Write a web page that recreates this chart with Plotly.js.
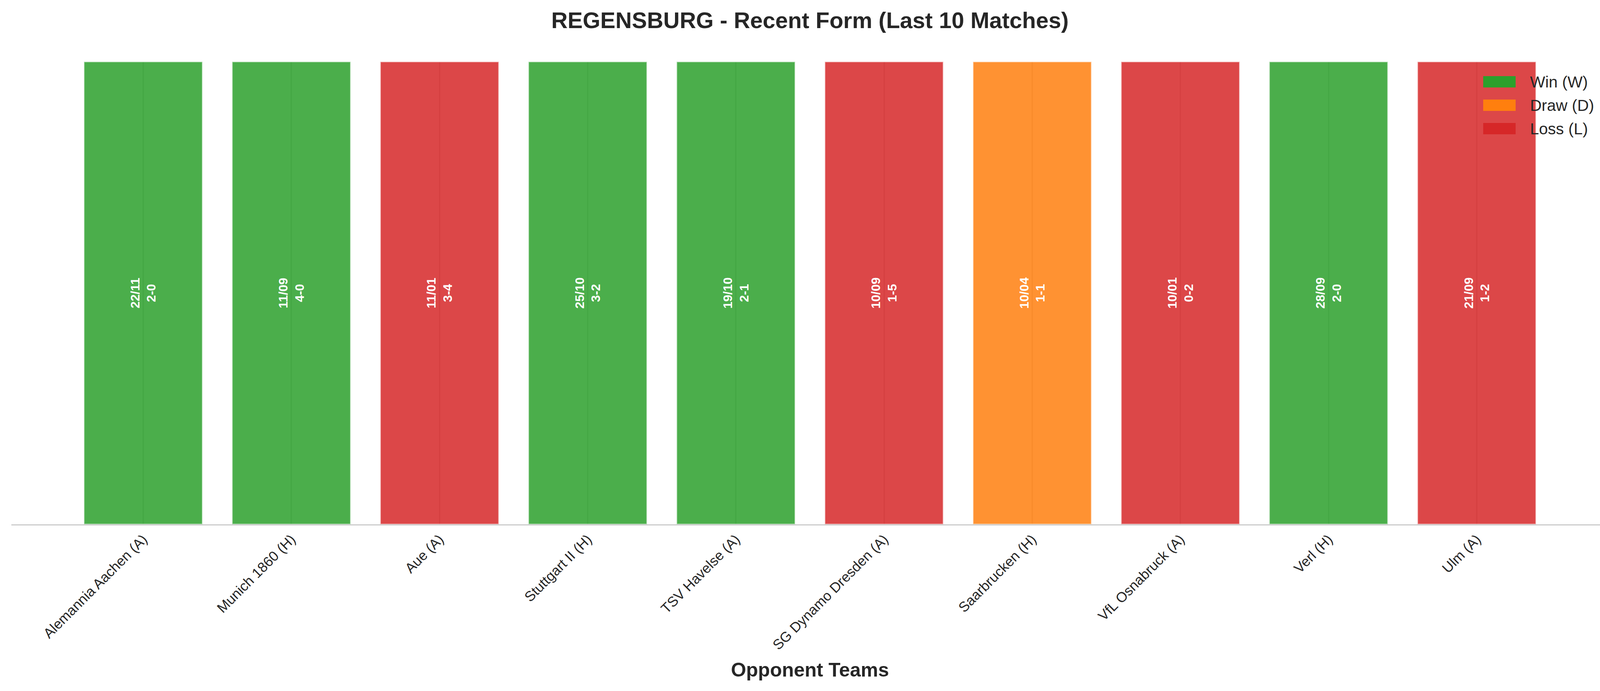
<!DOCTYPE html>
<html>
<head>
<meta charset="utf-8">
<script src="https://cdn.plot.ly/plotly-3.0.1.min.js"></script>
<style>
  html, body { margin: 0; padding: 0; background: #fff; }
  #chart { width: 4147px; height: 1770px; }
</style>
</head>
<body>
<div id="chart"></div>
<script>
const opponents = [
  'Alemannia Aachen (A)', 'Munich 1860 (H)', 'Aue (A)', 'Stuttgart II (H)', 'TSV Havelse (A)',
  'SG Dynamo Dresden (A)', 'Saarbrucken (H)', 'VfL Osnabruck (A)', 'Verl (H)', 'Ulm (A)',
];
const dates = ['22/11', '11/09', '11/01', '25/10', '19/10', '10/09', '10/04', '10/01', '28/09', '21/09'];
const scores = ['2-0', '4-0', '3-4', '3-2', '2-1', '1-5', '1-1', '0-2', '2-0', '1-2'];
const results = ['W', 'W', 'L', 'W', 'W', 'L', 'D', 'L', 'W', 'L'];

const resultKeys = ['W', 'D', 'L'];
const resultNames = ['Win (W)', 'Draw (D)', 'Loss (L)'];
const resultColors = ['44,160,44', '255,127,14', '214,39,40'];

const font = 'Liberation Sans, Arial, Helvetica, sans-serif';
const textColor = '#262626';

// one trace per result type, bars overlaid on the category axis
const traces = resultKeys.map((key, k) => {
  const idx = results.map((r, i) => (r === key ? i : -1)).filter((i) => i >= 0);
  return {
    type: 'bar',
    name: resultNames[k],
    x: idx.map((i) => opponents[i]),
    y: idx.map(() => 1),
    width: 0.8,
    text: idx.map((i) => `${dates[i]}<br>${scores[i]}`),
    textposition: 'inside',
    insidetextanchor: 'middle',
    textangle: -90,
    constraintext: 'none',
    textfont: { family: font, size: 32, color: '#ffffff', weight: 'bold' },
    marker: {
      color: `rgba(${resultColors[k]},0.85)`,
      line: { color: 'rgba(255,255,255,0.6)', width: 3 },
    },
    hoverinfo: 'x+text',
    showlegend: false,
  };
});

// legend drawn by hand so the colour patches are wide like the original
const shapes = [];
const annotations = [];
resultKeys.forEach((key, k) => {
  shapes.push({
    type: 'rect',
    xref: 'paper', yref: 'paper',
    xsizemode: 'pixel', ysizemode: 'pixel',
    xanchor: 1, yanchor: 1,
    x0: -321, x1: -238,
    y0: -37 - 60 * k, y1: -66 - 60 * k,
    fillcolor: `rgb(${resultColors[k]})`,
    line: { width: 0 },
  });
  annotations.push({
    xref: 'paper', yref: 'paper',
    x: 1, y: 1,
    xshift: -203, yshift: -52 - 60 * k,
    xanchor: 'left', yanchor: 'middle',
    text: resultNames[k],
    showarrow: false,
    font: { family: font, size: 41, color: textColor },
  });
});

const layout = {
  width: 4147,
  height: 1770,
  margin: { l: 29, r: 29, t: 158, b: 427 },
  paper_bgcolor: '#ffffff',
  plot_bgcolor: '#ffffff',
  barmode: 'overlay',
  bargap: 0.2,
  showlegend: false,
  title: {
    text: '<b>REGENSBURG - Recent Form (Last 10 Matches)</b>',
    x: 0.5,
    xanchor: 'center',
    y: 1 - 52 / 1770,
    yanchor: 'middle',
    font: { family: font, size: 58, color: textColor },
  },
  xaxis: {
    type: 'category',
    categoryorder: 'array',
    categoryarray: opponents,
    range: [-0.89, 9.89],
    tickangle: -45,
    tickfont: { family: font, size: 36, color: textColor },
    ticks: '',
    showgrid: true,
    gridcolor: '#cccccc',
    gridwidth: 3,
    showline: true,
    linecolor: '#cccccc',
    linewidth: 3,
    zeroline: false,
    automargin: false,
    title: {
      text: '<b>Opponent Teams</b>',
      standoff: 27,
      font: { family: font, size: 50, color: textColor },
    },
  },
  yaxis: {
    range: [0, 1],
    showticklabels: false,
    showgrid: false,
    zeroline: false,
    showline: false,
    ticks: '',
  },
  shapes: shapes,
  annotations: annotations,
  font: { family: font, color: textColor },
};

Plotly.newPlot('chart', traces, layout, { displayModeBar: false, staticPlot: true });
</script>
</body>
</html>
